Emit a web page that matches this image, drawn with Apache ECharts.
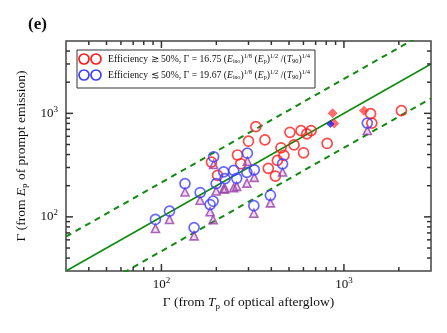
<!DOCTYPE html>
<html>
<head>
<meta charset="utf-8">
<script src="https://cdn.jsdelivr.net/npm/echarts@6/dist/echarts.min.js"></script>
<style>
  html, body { margin: 0; padding: 0; background: #fff; }
  #chart { width: 447px; height: 333px; }
</style>
</head>
<body>
<div id="chart"></div>
<script>
// 效率 >= 50% 的点 (红圈)
const redX = [188, 203, 261, 272, 300, 329, 369, 385, 421, 432, 452, 469, 506, 533, 582, 626, 661, 601, 809, 1400, 1422, 2065]
const redY = [338, 252, 396, 326, 538, 745, 555, 294, 248, 351, 465, 392, 656, 496, 682, 634, 682, 416, 512, 993, 805, 1062]
// 效率 <= 50% 的点 (蓝圈) 以及下面的紫色三角
const blueX = [92.7, 110.7, 134.6, 151, 163, 193.2, 184.8, 191.9, 199.5, 219.3, 249, 258.6, 223, 295.8, 293.9, 322.8, 320.9, 395.4, 461, 1343]
const blueY = [94.4, 113.5, 209.5, 78.8, 171.8, 381, 131.6, 141.6, 209.5, 272, 281, 235.5, 234, 412, 269, 284.6, 128.2, 161.7, 325, 805]
const triY = [77.3, 94.4, 173.9, 65.6, 144.8, 321, 112.2, 94, 177.8, 186.6, 191, 197, 187.5, 345, 212, 241, 108.5, 136.5, 271, 682]
// 实心菱形
const redDiaX = [867, 885, 1288]
const redDiaY = [1000, 796, 1062]
const blueDiaX = [843]
const blueDiaY = [791]
// 参考线 y = x 以及上下虚线
const solidLine = [[30, 30], [3000, 3000]]
const upperLine = [[30, 64.5], [3000, 6450]]
const lowerLine = [[30, 14], [3000, 1395]]
// 刻度
const majorTicks = [100, 1000]
const xMinor = [40, 50, 60, 70, 80, 90, 200, 300, 400, 500, 600, 700, 800, 900, 2000]
const yMinor = [40, 50, 60, 70, 80, 90, 200, 300, 400, 500, 600, 700, 800, 900, 2000, 3000, 4000]

const serif = 'Liberation Serif'
const zip = (xs, ys) => xs.map((x, i) => [x, ys[i]])
const frameColor = '#444'
const tickColor = '#333'

const supRich = {
    b: { fontSize: 13, fontFamily: serif, color: '#111' },
    s: { fontSize: 9, fontFamily: serif, color: '#111', padding: [0, 0, 8, 0] }
}
function powLabel(v) {
    const e = Math.round(Math.log10(v))
    return '{b|10}{s|' + e + '}'
}

const nameRich = {
    g: { fontSize: 13.5, fontFamily: serif, color: '#111' },
    i: { fontSize: 13.5, fontFamily: serif, fontStyle: 'italic', color: '#111' },
    sub: { fontSize: 9, fontFamily: serif, color: '#111', padding: [7, 0, 0, 0] }
}

var myChart = echarts.init(document.getElementById('chart'), null, { renderer: 'canvas' })

const circleStyle = (c) => ({ color: 'transparent', borderColor: c, borderWidth: 1.7 })

function legendText(y, sign, coef) {
    const f = 9.7
    return {
        type: 'text', z: 11, x: 108, y: y,
        style: {
            text: '{t|Efficiency ' + sign + ' 50%, Γ = ' + coef + ' (}{i|E}{sub|iso}{t|)}{sup|1/8}{t| (}{i|E}{sub|p}{t|)}{sup|1/2}{t| /(}{i|T}{sub|90}{t|)}{sup|1/4}',
            verticalAlign: 'middle',
            rich: {
                t: { fontSize: f, fontFamily: serif, fill: '#111' },
                i: { fontSize: f, fontFamily: serif, fontStyle: 'italic', fill: '#111' },
                sub: { fontSize: 6.5, fontFamily: serif, fill: '#111', padding: [5, 0, 0, 0] },
                sup: { fontSize: 6.5, fontFamily: serif, fill: '#111', padding: [0, 0, 6, 0] }
            }
        }
    }
}

const grid = { left: 66, right: 16, top: 41, bottom: 62 }
const W = 447, H = 333
const gx0 = grid.left, gx1 = W - grid.right, gy0 = grid.top, gy1 = H - grid.bottom

const option = {
    animation: false,
    backgroundColor: '#fff',
    grid: Object.assign({ show: true, borderColor: frameColor, borderWidth: 1.5, backgroundColor: 'transparent' }, grid),
    xAxis: {
        type: 'log', logBase: 10, min: 30, max: 3000,
        axisLine: { show: false },
        axisTick: { show: false },
        splitLine: { show: false },
        axisLabel: { customValues: majorTicks, formatter: powLabel, rich: supRich, margin: 5 },
        name: '{g|Γ (from }{i|T}{sub|p}{g| of optical afterglow)}',
        nameLocation: 'middle',
        nameGap: 19,
        nameTextStyle: { rich: nameRich }
    },
    yAxis: {
        type: 'log', logBase: 10, min: 30, max: 5000,
        axisLine: { show: false },
        axisTick: { show: false },
        splitLine: { show: false },
        axisLabel: { customValues: majorTicks, formatter: powLabel, rich: supRich, margin: 8 },
        name: '{g|Γ (from }{i|E}{sub|p}{g| of prompt emission)}',
        nameLocation: 'middle',
        nameGap: 30,
        nameRotate: 90,
        nameTextStyle: { rich: nameRich }
    },
    series: [
        {
            type: 'line', data: solidLine, symbol: 'none', clip: true,
            lineStyle: { color: '#108a10', width: 1.6 }, z: 1
        },
        {
            type: 'line', data: upperLine, symbol: 'none', clip: true,
            lineStyle: { color: '#108a10', width: 2, type: [6, 5] }, z: 1
        },
        {
            type: 'line', data: lowerLine, symbol: 'none', clip: true,
            lineStyle: { color: '#108a10', width: 2, type: [6, 5] }, z: 1
        },
        {
            type: 'scatter', data: zip(redX, redY), symbol: 'circle', symbolSize: 10,
            itemStyle: circleStyle('#ff1a1a'), z: 3
        },
        {
            type: 'scatter', data: zip(blueX, triY), symbol: 'triangle', symbolSize: [8, 8],
            itemStyle: { color: 'rgba(170,80,180,0.25)', borderColor: '#9a3fa8', borderWidth: 1.6 }, z: 4
        },
        {
            type: 'scatter', data: zip(blueX, blueY), symbol: 'circle', symbolSize: 10,
            itemStyle: circleStyle('#3f3fff'), z: 5
        },
        {
            type: 'scatter', data: zip(redDiaX, redDiaY), symbol: 'diamond', symbolSize: 10,
            itemStyle: { color: 'rgba(255,40,40,0.85)' }, z: 6
        },
        {
            type: 'scatter', data: zip(blueDiaX, blueDiaY), symbol: 'diamond', symbolSize: 8,
            itemStyle: { color: '#2222ee' }, z: 7
        }
    ],
    graphic: [
        {
            type: 'text', left: 28, top: 16,
            style: { text: '(e)', font: 'bold 17px "Liberation Serif"', fill: '#111' }
        },
        {
            type: 'rect', z: 10,
            shape: { x: 77, y: 50, width: 238, height: 38 },
            style: { fill: '#fff', stroke: '#333', lineWidth: 1 }
        },
        { type: 'circle', z: 11, shape: { cx: 84, cy: 59, r: 5 }, style: { fill: 'none', stroke: '#ff1a1a', lineWidth: 1.7 } },
        { type: 'circle', z: 11, shape: { cx: 96, cy: 59, r: 5 }, style: { fill: 'none', stroke: '#ff1a1a', lineWidth: 1.7 } },
        { type: 'circle', z: 11, shape: { cx: 84, cy: 75, r: 5 }, style: { fill: 'none', stroke: '#3f3fff', lineWidth: 1.7 } },
        { type: 'circle', z: 11, shape: { cx: 96, cy: 75, r: 5 }, style: { fill: 'none', stroke: '#3f3fff', lineWidth: 1.7 } },
        legendText(59, '≳', '16.75'),
        legendText(75, '≲', '19.67')
    ]
}

myChart.setOption(option)

// 四周朝内的刻度：位置用坐标轴换算，画成细矩形
const tickRects = []
function addTick(x, y, w, h) {
    tickRects.push({ type: 'rect', z: 12, shape: { x: x, y: y, width: w, height: h }, style: { fill: tickColor } })
}
majorTicks.map(v => [v, 7]).concat(xMinor.map(v => [v, 4])).forEach(function (t) {
    const px = myChart.convertToPixel({ xAxisIndex: 0 }, t[0])
    addTick(px - 0.75, gy1 - t[1], 1.5, t[1])
    addTick(px - 0.75, gy0, 1.5, t[1])
})
majorTicks.map(v => [v, 7]).concat(yMinor.map(v => [v, 4])).forEach(function (t) {
    const py = myChart.convertToPixel({ yAxisIndex: 0 }, t[0])
    addTick(gx0, py - 0.75, t[1], 1.5)
    addTick(gx1 - t[1], py - 0.75, t[1], 1.5)
})
myChart.setOption({ graphic: option.graphic.concat(tickRects) })

window.addEventListener('resize', myChart.resize)
</script>
</body>
</html>
